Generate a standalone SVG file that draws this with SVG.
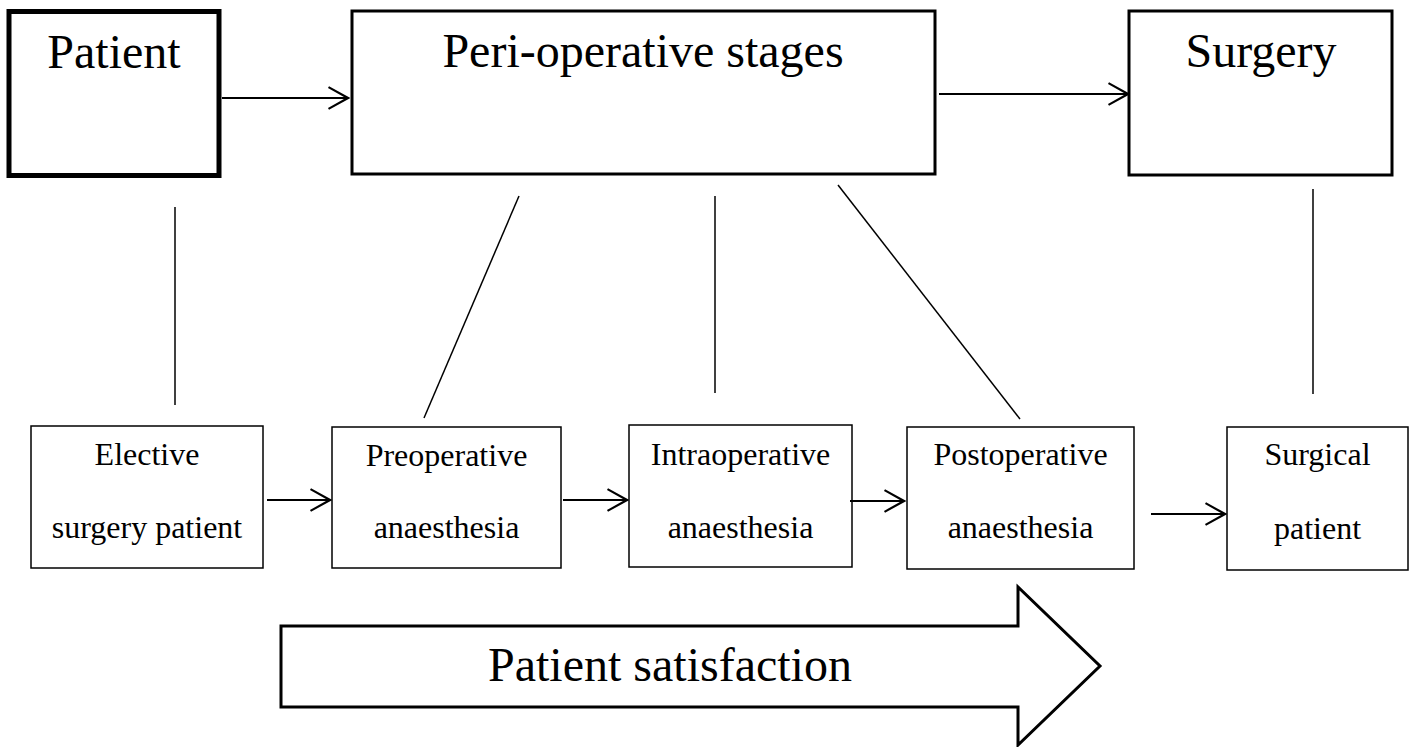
<svg xmlns="http://www.w3.org/2000/svg" width="1415" height="747" viewBox="0 0 1415 747">
<style>
  .big { font-family: "Liberation Serif", "Times New Roman", serif; font-size: 48px; fill: #000; text-anchor: middle; }
  .sm { font-family: "Liberation Serif", "Times New Roman", serif; font-size: 32px; fill: #000; text-anchor: middle; }
  .box { fill: #fff; stroke: #000; }
  .ln { stroke: #000; stroke-width: 1.5; fill: none; }
  .arr { stroke: #000; stroke-width: 2; fill: none; marker-end: url(#chev); }
</style>
<defs>
  <marker id="chev" markerUnits="userSpaceOnUse" markerWidth="24" markerHeight="26" viewBox="-20 -12 22 24" refX="0" refY="0" orient="auto">
    <path d="M-18,-10 L0,0 L-18,10" fill="none" stroke="#000" stroke-width="2"/>
  </marker>
</defs>
<rect width="1415" height="747" fill="#fff"/>
<g id="patient">
  <rect class="box" x="9" y="11.5" width="210" height="164" stroke-width="5"/>
  <text class="big" x="114" y="68">Patient</text>
</g>
<g id="peri">
  <rect class="box" x="352" y="11" width="583" height="163" stroke-width="3"/>
  <text class="big" x="643" y="67">Peri-operative stages</text>
</g>
<g id="surgery">
  <rect class="box" x="1129" y="11" width="263" height="164" stroke-width="3"/>
  <text class="big" x="1261" y="67">Surgery</text>
</g>
<g id="elective">
  <rect class="box" x="31" y="426" width="232" height="142" stroke-width="1.5"/>
  <text class="sm" x="147" y="465">Elective</text>
  <text class="sm" x="147" y="538">surgery patient</text>
</g>
<g id="preop">
  <rect class="box" x="332" y="427" width="229" height="141" stroke-width="1.5"/>
  <text class="sm" x="446.5" y="466">Preoperative</text>
  <text class="sm" x="446.5" y="538">anaesthesia</text>
</g>
<g id="intraop">
  <rect class="box" x="629" y="425" width="223" height="142" stroke-width="1.5"/>
  <text class="sm" x="740.5" y="465">Intraoperative</text>
  <text class="sm" x="740.5" y="538">anaesthesia</text>
</g>
<g id="postop">
  <rect class="box" x="907" y="427" width="227" height="142" stroke-width="1.5"/>
  <text class="sm" x="1020.5" y="465">Postoperative</text>
  <text class="sm" x="1020.5" y="538">anaesthesia</text>
</g>
<g id="surgical">
  <rect class="box" x="1227" y="427" width="181" height="143" stroke-width="1.5"/>
  <text class="sm" x="1317.5" y="465">Surgical</text>
  <text class="sm" x="1317.5" y="539">patient</text>
</g>
<g id="satisfaction">
  <polygon points="281,626 1018,626 1018,587 1100,666 1018,745 1018,707 281,707" fill="#fff" stroke="#000" stroke-width="3" stroke-linejoin="miter"/>
  <text class="big" x="670" y="681">Patient satisfaction</text>
</g>
<g id="connectors">
  <line class="arr" x1="222" y1="98" x2="348" y2="98"/>
  <line class="arr" x1="939" y1="94" x2="1128" y2="94"/>
  <line class="ln" x1="175" y1="207" x2="175" y2="405"/>
  <line class="ln" x1="519" y1="196" x2="424" y2="418"/>
  <line class="ln" x1="715" y1="196" x2="715" y2="393"/>
  <line class="ln" x1="838" y1="185" x2="1020" y2="419"/>
  <line class="ln" x1="1313" y1="189" x2="1313" y2="394"/>
  <line class="arr" x1="267" y1="500" x2="330" y2="500"/>
  <line class="arr" x1="563" y1="500" x2="627" y2="500"/>
  <line class="arr" x1="850" y1="501" x2="904" y2="501"/>
  <line class="arr" x1="1151" y1="514" x2="1225" y2="514"/>
</g>
</svg>
